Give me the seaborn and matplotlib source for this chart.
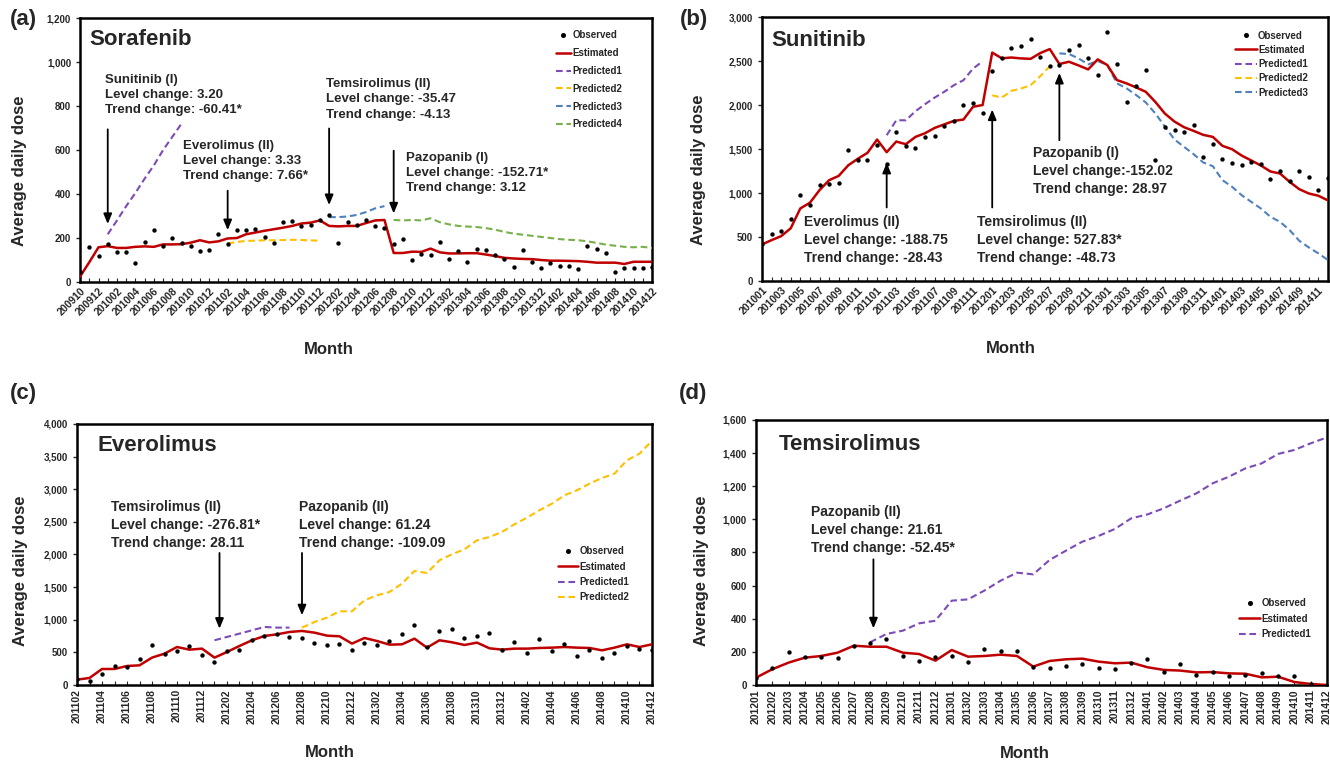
import numpy as np
import pandas as pd
import matplotlib
matplotlib.use("Agg")
import matplotlib.pyplot as plt
import seaborn as sns
from matplotlib.lines import Line2D
from matplotlib.ticker import StrMethodFormatter, MultipleLocator


def month_list(start, end):
    return pd.period_range(start, end, freq="M").strftime("%Y%m").tolist()


# (a) Sorafenib, 200910-201412
a_months = month_list("2009-10", "2014-12")
a_obs = [45, 160, 118, 171, 136, 135, 88, 180, 236, 165, 200, 177, 162, 142, 144, 217,
         173, 235, 238, 239, 206, 176, 271, 277, 256, 259, 282, 305, 177, 273, 258, 282,
         253, 244, 174, 195, 100, 127, 121, 180, 103, 142, 91, 151, 144, 124, 106, 68,
         144, 91, 64, 86, 74, 71, 61, 164, 150, 132, 45, 62, 62, 62, 68]
a_est = [25, 90, 158, 163, 155, 155, 160, 162, 160, 171, 171, 172, 179, 190, 180, 185,
         198, 200, 217, 225, 233, 240, 247, 255, 266, 270, 280, 255, 253, 255, 255, 268,
         280, 282, 132, 132, 138, 137, 152, 135, 130, 130, 131, 131, 125, 118, 110, 107,
         105, 104, 100, 97, 97, 96, 95, 92, 88, 88, 88, 82, 92, 92, 92]
a_pred1 = [217, 280, 345, 405, 470, 530, 600, 660, 720]
a_pred2 = [175, 182, 187, 188, 190, 190, 191, 192, 191, 189, 188]
a_pred3 = [295, 295, 298, 305, 318, 335, 345]
a_pred4 = [282, 280, 282, 280, 290, 272, 262, 255, 252, 250, 245, 238, 228, 220, 215,
           210, 205, 200, 195, 192, 190, 185, 178, 170, 165, 160, 158, 160, 155]
a_starts = ["201001", "201102", "201201", "201208"]

# (b) Sunitinib, 201001-201412
b_months = month_list("2010-01", "2014-12")
b_obs = [420, 535, 571, 700, 976, 866, 1097, 1105, 1116, 1487, 1381, 1381, 1544, 1330,
         1699, 1536, 1513, 1638, 1653, 1763, 1816, 2005, 2024, 1914, 2387, 2531, 2648,
         2675, 2750, 2546, 2444, 2459, 2630, 2679, 2535, 2338, 2830, 2470, 2032, 2213,
         2395, 1377, 1752, 1722, 1695, 1771, 1404, 1555, 1389, 1339, 1317, 1358, 1335,
         1162, 1252, 1135, 1249, 1177, 1040, 1173]
b_est = [416, 465, 510, 600, 825, 890, 1033, 1146, 1195, 1316, 1390, 1457, 1608, 1464,
         1585, 1555, 1638, 1680, 1740, 1780, 1820, 1835, 1980, 2000, 2596, 2531, 2540,
         2530, 2525, 2590, 2636, 2466, 2492, 2450, 2405, 2519, 2454, 2284, 2246, 2200,
         2151, 2036, 1903, 1812, 1748, 1706, 1661, 1638, 1536, 1498, 1426, 1370, 1313,
         1245, 1222, 1127, 1044, 995, 969, 916]
b_pred1 = [1657, 1827, 1827, 1930, 2010, 2085, 2150, 2225, 2282, 2414, 2497]
b_pred2 = [2111, 2085, 2161, 2187, 2225, 2327, 2440]
b_pred3 = [2587, 2580, 2530, 2462, 2500, 2454, 2246, 2190, 2114, 2030, 1905, 1755, 1608,
           1525, 1441, 1347, 1305, 1146, 1071, 976, 900, 825, 730, 673, 579, 458, 382,
           314, 238]
b_starts = ["201102", "201201", "201208"]

# (c) Everolimus, 201102-201412
c_months = month_list("2011-02", "2014-12")
c_obs = [87, 56, 174, 296, 276, 404, 608, 470, 521, 598, 455, 352, 516, 542, 695, 746,
         776, 741, 725, 649, 608, 628, 536, 644, 618, 669, 776, 914, 582, 822, 853, 720,
         751, 802, 542, 664, 490, 705, 526, 633, 444, 542, 419, 490, 593, 557, 542]
c_est = [82, 107, 245, 245, 291, 301, 419, 480, 582, 541, 557, 419, 506, 598, 685, 751,
         776, 812, 828, 802, 756, 746, 634, 720, 674, 618, 623, 710, 572, 685, 654, 613,
         649, 562, 542, 557, 557, 567, 572, 582, 572, 567, 531, 572, 623, 582, 623]
c_pred1 = [685, 736, 787, 838, 889, 879, 879]
c_pred2 = [879, 965, 1032, 1129, 1129, 1298, 1374, 1425, 1553, 1747, 1716, 1911, 2003,
           2079, 2217, 2268, 2345, 2462, 2565, 2677, 2779, 2907, 2983, 3085, 3172, 3238,
           3443, 3545, 3740]
c_starts = ["201201", "201208"]

# (d) Temsirolimus, 201201-201412
d_months = month_list("2012-01", "2014-12")
d_obs = [44, 103, 201, 171, 171, 161, 237, 252, 276, 175, 147, 171, 175, 139, 215, 207,
         207, 111, 101, 117, 127, 101, 95, 135, 155, 80, 127, 58, 80, 54, 58, 74, 56, 54,
         5, 0]
d_est = [44, 95, 135, 165, 175, 195, 237, 231, 231, 195, 187, 147, 211, 171, 175, 183,
         175, 111, 145, 155, 159, 141, 131, 135, 107, 91, 87, 76, 78, 70, 68, 46, 50, 18,
         6, 0]
d_pred1 = [258, 308, 328, 372, 388, 509, 517, 570, 630, 678, 668, 755, 811, 865, 900, 942,
           1006, 1030, 1067, 1113, 1157, 1218, 1258, 1308, 1338, 1395, 1419, 1459, 1495]
d_starts = ["201208"]

EST_C = "#C00000"
PRED_C = ["#7B4BB7", "#FFC000", "#4F81BD", "#77B04A"]
DASH = (0, (3.2, 1.8))

sns.set_style("white")
plt.rcParams["font.family"] = ["Liberation Sans", "DejaVu Sans"]
plt.rcParams["font.weight"] = "bold"
plt.rcParams["axes.labelweight"] = "bold"


def draw(ax, months, obs, est, preds, starts, ymax, ystep, rot, step):
    x = np.arange(len(months))
    sns.scatterplot(x=x, y=obs, ax=ax, color="black", s=10, linewidth=0, zorder=5)
    sns.lineplot(x=x, y=est, ax=ax, color=EST_C, linewidth=1.8, zorder=4)
    for k, (st, vals) in enumerate(zip(starts, preds)):
        i0 = months.index(st)
        sns.lineplot(x=x[i0:i0 + len(vals)], y=vals, ax=ax, color=PRED_C[k],
                     linewidth=1.5, linestyle=DASH, zorder=3)
    ax.set_xlim(0, len(months) - 1)
    ax.set_ylim(0, ymax)
    ax.yaxis.set_major_locator(MultipleLocator(ystep))
    ax.yaxis.set_major_formatter(StrMethodFormatter("{x:,.0f}"))
    ax.set_xticks(x[::step])
    ax.set_xticks(x, minor=True)
    if rot == 45:
        ax.set_xticklabels(months[::step], rotation=45, ha="right",
                           rotation_mode="anchor", fontsize=7.5)
    else:
        ax.set_xticklabels(months[::step], rotation=90, fontsize=7.5)
    ax.tick_params(axis="y", left=True, labelsize=7, length=3, width=1)
    ax.tick_params(axis="x", which="both", bottom=True, length=3, width=0.8,
                   direction="in", pad=3)
    for sp in ax.spines.values():
        sp.set_color("black")
        sp.set_linewidth(1.8)
    ax.set_xlabel("Month", fontsize=12)
    ax.set_ylabel("Average daily dose", fontsize=12)


def legend(ax, n_pred, anchor, hl, ls):
    handles = [Line2D([], [], ls="none", marker="o", ms=2.6, color="black"),
               Line2D([], [], color=EST_C, lw=1.8)]
    handles += [Line2D([], [], color=PRED_C[k], lw=1.5, ls=DASH) for k in range(n_pred)]
    labels = ["Observed", "Estimated"] + [f"Predicted{k + 1}" for k in range(n_pred)]
    ax.legend(handles, labels, loc="upper left", bbox_to_anchor=anchor, frameon=False,
              fontsize=7, handlelength=hl, handletextpad=0.15, labelspacing=ls,
              borderpad=0, borderaxespad=0)


def note(ax, x, y, text, size=10):
    ax.text(x, y, text, ha="left", va="top", fontsize=size, fontweight="bold",
            linespacing=1.35)


def arrow(ax, x, y0, y1):
    ax.annotate("", xy=(x, y1), xytext=(x, y0),
                arrowprops=dict(arrowstyle="-|>,head_width=0.25,head_length=0.6",
                                color="black", lw=1.3, shrinkA=0, shrinkB=0))


fig = plt.figure(figsize=(13.3, 7.61), dpi=100)
ax_a = fig.add_axes([0.0602, 0.6294, 0.4300, 0.3469])
ax_b = fig.add_axes([0.5729, 0.6307, 0.4256, 0.3469])
ax_c = fig.add_axes([0.0579, 0.0999, 0.4323, 0.3430])
ax_d = fig.add_axes([0.5684, 0.0999, 0.4293, 0.3482])

# (a)
draw(ax_a, a_months, a_obs, a_est, [a_pred1, a_pred2, a_pred3, a_pred4], a_starts,
     1200, 200, 45, 2)
legend(ax_a, 4, (0.832, 0.953), 1.55, 0.8)
ax_a.text(0.017, 0.92, "Sorafenib", transform=ax_a.transAxes, fontsize=16, va="center")
note(ax_a, 2.7, 945, "Sunitinib (I)\nLevel change: 3.20\nTrend change: -60.41*", 9.5)
arrow(ax_a, 3, 694, 264)
note(ax_a, 11.2, 645, "Everolimus (II)\nLevel change: 3.33\nTrend change: 7.66*", 9.5)
arrow(ax_a, 16, 415, 236)
note(ax_a, 26.7, 926, "Temsirolimus (II)\nLevel change: -35.47\nTrend change: -4.13", 9.5)
arrow(ax_a, 27, 698, 350)
note(ax_a, 35.3, 592, "Pazopanib (I)\nLevel change: -152.71*\nTrend change: 3.12", 9.5)
arrow(ax_a, 34, 597, 312)
ax_a.yaxis.set_label_coords(-0.093, 0.42)
ax_a.xaxis.set_label_coords(0.435, -0.228)

# (b)
draw(ax_b, b_months, b_obs, b_est, [b_pred1, b_pred2, b_pred3], b_starts,
     3000, 500, 45, 2)
legend(ax_b, 3, (0.836, 0.949), 2.2, 0.44)
ax_b.text(0.016, 0.91, "Sunitinib", transform=ax_b.transAxes, fontsize=16, va="center")
note(ax_b, 4.4, 750, "Everolimus (II)\nLevel change: -188.75\nTrend change: -28.43")
arrow(ax_b, 13, 836, 1343)
note(ax_b, 22.4, 750, "Temsirolimus (II)\nLevel change: 527.83*\nTrend change: -48.73")
arrow(ax_b, 24, 836, 1949)
note(ax_b, 28.2, 1535, "Pazopanib (I)\nLevel change:-152.02\nTrend change: 28.97")
arrow(ax_b, 31, 1600, 2365)
ax_b.yaxis.set_label_coords(-0.099, 0.42)
ax_b.xaxis.set_label_coords(0.44, -0.228)

# (c)
draw(ax_c, c_months, c_obs, c_est, [c_pred1, c_pred2], c_starts, 4000, 500, 90, 2)
legend(ax_c, 2, (0.836, 0.531), 2.1, 0.55)
ax_c.text(0.036, 0.916, "Everolimus", transform=ax_c.transAxes, fontsize=16, va="center")
note(ax_c, 2.75, 2830, "Temsirolimus (II)\nLevel change: -276.81*\nTrend change: 28.11")
arrow(ax_c, 11.4, 2023, 863)
note(ax_c, 17.8, 2830, "Pazopanib (II)\nLevel change: 61.24\nTrend change: -109.09")
arrow(ax_c, 18, 2023, 1068)
ax_c.yaxis.set_label_coords(-0.085, 0.437)
ax_c.xaxis.set_label_coords(0.44, -0.23)

# (d)
draw(ax_d, d_months, d_obs, d_est, [d_pred1], d_starts, 1600, 200, 90, 1)
legend(ax_d, 1, (0.846, 0.327), 2.2, 0.55)
ax_d.text(0.04, 0.906, "Temsirolimus", transform=ax_d.transAxes, fontsize=16, va="center")
note(ax_d, 3.4, 1085, "Pazopanib (II)\nLevel change: 21.61\nTrend change: -52.45*")
arrow(ax_d, 7.2, 759, 342)
ax_d.yaxis.set_label_coords(-0.082, 0.43)
ax_d.xaxis.set_label_coords(0.47, -0.23)

for lab, px, py in [("(a)", 10, 20), ("(b)", 680, 20), ("(c)", 10, 393), ("(d)", 679, 393)]:
    fig.text(px / 1330, 1 - py / 761, lab, fontsize=16, va="center", ha="left")

fig.savefig("out.png", dpi=100)
